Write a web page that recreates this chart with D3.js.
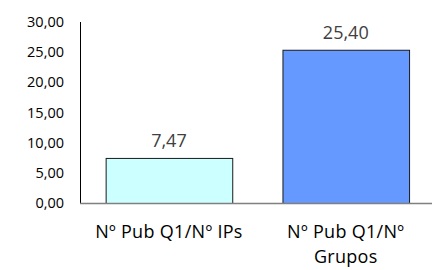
<!DOCTYPE html>
<meta charset="utf-8">
<style>
body { margin: 0; background: #fff; }
svg { display: block; font-family: "Open Sans", sans-serif; }
.tick-label { font-size: 14.5px; fill: #000; }
.value-label { font-size: 18px; fill: #404040; }
.cat-label { font-size: 18px; fill: #000; letter-spacing: 0.3px; }
</style>
<svg width="432" height="270"></svg>
<script src="https://d3js.org/d3.v7.min.js"></script>
<script>

var categories = ["Nº Pub Q1/Nº IPs", "Nº Pub Q1/Nº Grupos"];
var catLines = [["Nº Pub Q1/Nº IPs"], ["Nº Pub Q1/Nº", "Grupos"]];
var values = [7.47, 25.40];
var colors = ["#CCFFFF", "#6699FF"];
var yTicks = [0, 5, 10, 15, 20, 25, 30];

var svg = d3.select("svg");

var fmt = function(d) { return d.toFixed(2).replace(".", ","); };

var x = d3.scaleBand()
    .domain(categories)
    .range([80, 434.7])
    .paddingInner(0.284)
    .paddingOuter(0.145);

var y = d3.scaleLinear()
    .domain([0, 30])
    .range([203, 22]);

// y axis labels, no tick marks
svg.append("g")
  .selectAll("text")
  .data(yTicks)
  .enter().append("text")
    .attr("class", "tick-label")
    .attr("x", 64)
    .attr("y", function(d) { return y(d); })
    .attr("dy", "0.35em")
    .attr("text-anchor", "end")
    .text(fmt);

// bars
svg.append("g")
  .selectAll("rect")
  .data(values)
  .enter().append("rect")
    .attr("x", function(d, i) { return x(categories[i]) + 0.5; })
    .attr("y", function(d) { return y(d) + 0.5; })
    .attr("width", x.bandwidth())
    .attr("height", function(d) { return y(0) - y(d); })
    .attr("fill", function(d, i) { return colors[i]; })
    .attr("stroke", "#1a1a1a")
    .attr("stroke-width", 1);

// axes lines
svg.append("line")
    .attr("x1", 80.5).attr("x2", 80.5)
    .attr("y1", y(30)).attr("y2", y(0))
    .attr("stroke", "#000");

svg.append("line")
    .attr("x1", 80).attr("x2", 432)
    .attr("y1", y(0) + 0.5).attr("y2", y(0) + 0.5)
    .attr("stroke", "#808080")
    .attr("stroke-width", 1.5);

// value labels
svg.append("g")
  .selectAll("text")
  .data(values)
  .enter().append("text")
    .attr("class", "value-label")
    .attr("x", function(d, i) { return x(categories[i]) + x.bandwidth() / 2; })
    .attr("y", function(d) { return y(d) - 11; })
    .attr("text-anchor", "middle")
    .text(fmt);

// category labels, one text per line
svg.append("g")
  .selectAll("g")
  .data(categories)
  .enter().append("g")
  .each(function(d, i) {
    var cx = x(d) + x.bandwidth() / 2;
    d3.select(this).selectAll("text")
      .data(catLines[i])
      .enter().append("text")
        .attr("class", "cat-label")
        .attr("text-anchor", "middle")
        .attr("x", cx)
        .attr("y", function(t, j) { return 238 + j * 24.5; })
        .text(function(t) { return t; });
  });

</script>
